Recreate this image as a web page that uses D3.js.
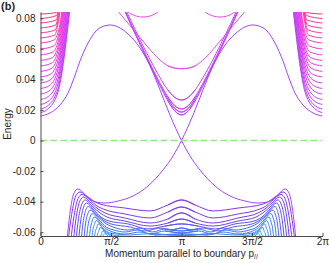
<!DOCTYPE html>
<html>
<head>
<meta charset="utf-8">
<script src="https://cdn.jsdelivr.net/npm/d3@7"></script>
<style>
  body { margin: 0; background: #fff; }
  svg { display: block; }
  text { font-family: "Liberation Sans", Arial, sans-serif; fill: #262626; }
</style>
</head>
<body>
<svg id="chart" width="329" height="263"></svg>
<script>
// momentum in units of pi, energy in units of the plot
var xTicks = [0, 0.5, 1, 1.5, 2];
var xTickLabels = ["0", "\u03c0/2", "\u03c0", "3\u03c0/2", "2\u03c0"];
var yTicks = [-0.06, -0.04, -0.02, 0, 0.02, 0.04, 0.06, 0.08];

// bulk bands near p = 0 (the ones near p = 2pi are their mirror image)
var upperBands = [
    [[0,.0828],[.09,.0834],[.117,.0842],[.13,.088]],
    [[0,.0798],[.114,.0818],[.127,.088]],
    [[0,.0769],[.111,.0789],[.132,.088]],
    [[0,.0736],[.107,.0756],[.136,.088]],
    [[0,.0704],[.104,.0724],[.140,.088]],
    [[0,.0671],[.100,.0690],[.144,.088]],
    [[0,.0638],[.096,.0658],[.139,.0769],[.156,.088]],
    [[0,.0599],[.092,.0618],[.137,.0730],[.160,.088]],
    [[0,.0560],[.088,.0579],[.135,.0690],[.164,.088]],
    [[0,.0524],[.084,.0543],[.134,.0654],[.169,.088]],
    [[0,.0488],[.080,.0507],[.132,.0618],[.173,.088]],
    [[0,.0452],[.076,.0471],[.131,.0582],[.177,.088]],
    [[0,.0416],[.072,.0435],[.130,.0546],[.181,.088]],
    [[0,.0376],[.068,.0396],[.128,.0507],[.186,.088]],
    [[0,.0340],[.064,.0360],[.126,.0471],[.190,.088]],
    [[0,.0304],[.060,.0324],[.125,.0435],[.194,.088]],
    [[0,.0268],[.056,.0288],[.124,.0399],[.198,.088]],
    [[0,.0236],[.053,.0255],[.123,.0366],[.203,.088]],
    [[0,.0206],[.050,.0226],[.123,.0337],[.207,.088]],
    [[0,.0183],[.048,.0203],[.123,.0314],[.211,.088]]
];

// bands with their minimum at p = pi (left half and a little past pi, mirrored)
var centerBands = [
    [[.55,.0943],[.6,.0841],[.65,.0739],[.7,.0640],[.75,.0541],[.8,.0445],[.85,.0352],[.9,.0265],[.95,.0196],[1,.0167],[1.05,.0196],[1.1,.0265]],
    [[.55,.0948],[.6,.0845],[.65,.0744],[.7,.0645],[.75,.0548],[.8,.0453],[.85,.0362],[.9,.0278],[.95,.0212],[1,.0186],[1.05,.0212],[1.1,.0278]],
    [[.55,.0950],[.6,.0850],[.65,.0749],[.7,.0651],[.75,.0555],[.8,.0461],[.85,.0372],[.9,.0291],[.95,.0230],[1,.0206],[1.05,.0230],[1.1,.0291]],
    [[.55,.0966],[.6,.0866],[.65,.0767],[.7,.0671],[.75,.0578],[.8,.0490],[.85,.0408],[.9,.0335],[.95,.0284],[1,.0265],[1.05,.0284],[1.1,.0335]],
    [[.5,.090],[.55,.0845],[.6,.079],[.65,.0735],[.7,.068],[.75,.0625],[.8,.057],[.85,.0525],[.9,.049],[.95,.0474],[1,.047],[1.05,.0474],[1.1,.049]]
];
var topArc = [[.58,.0870],[.6,.0855],[.64,.0830],[.68,.0814],[.727,.0808],[.77,.0813],[.81,.0828],[.85,.0852],[.87,.0868]];

// edge state (its partner is the mirror image)
var edgeState = [
    [0,.016],[.067,.018],[.138,.0232],[.195,.0311],[.238,.0409],[.280,.052],[.337,.0638],
    [.394,.0717],[.450,.0749],[.493,.0756],[.550,.0743],[.621,.0697],[.706,.0605],[.777,.0488],
    [.848,.033],[.918,.0167],[1,0],[1.060,-.0101],[1.131,-.0193],[1.238,-.0298],[1.344,-.0363],
    [1.450,-.0396],[1.543,-.0409],[1.613,-.0402],[1.670,-.0370],[1.734,-.0317],[1.762,-.0343],
    [1.784,-.0429],[1.801,-.0553],[1.812,-.0651]
];

// lower bulk bands (left half and a little past pi, mirrored)
var lowerBands = [
    [[.195,-.0664],[.221,-.0484],[.250,-.0363],[.280,-.0337],[.337,-.0370],[.387,-.0402],[.422,-.0416],[.599,-.0442],[.777,-.0461],[.904,-.0422],[1,-.0389],[1.096,-.0422]],
    [[.213,-.0664],[.238,-.0493],[.266,-.0380],[.294,-.0353],[.351,-.0389],[.401,-.0429],[.443,-.0448],[.599,-.0481],[.777,-.0507],[.904,-.0468],[1,-.0435],[1.096,-.0468]],
    [[.232,-.0664],[.254,-.0498],[.279,-.0396],[.305,-.0370],[.358,-.0409],[.408,-.0448],[.457,-.0474],[.599,-.0507],[.777,-.0540],[.904,-.0514],[1,-.0474],[1.096,-.0514]],
    [[.250,-.0664],[.270,-.0509],[.293,-.0416],[.316,-.0389],[.365,-.0429],[.422,-.0474],[.472,-.0501],[.599,-.0527],[.777,-.0560],[.904,-.0540],[1,-.0514],[1.096,-.0540]],
    [[.269,-.0664],[.286,-.0520],[.306,-.0435],[.326,-.0409],[.372,-.0448],[.429,-.0501],[.486,-.0527],[.621,-.0546],[.762,-.0579],[.883,-.0560],[1,-.0546],[1.117,-.0560]],
    [[.287,-.0664],[.302,-.0537],[.320,-.0458],[.337,-.0432],[.387,-.0474],[.443,-.0520],[.500,-.0546],[.635,-.0566],[.741,-.0592],[.848,-.0573],[.933,-.0586],[1,-.0573],[1.067,-.0586]],
    [[.306,-.0664],[.319,-.0546],[.335,-.0481],[.351,-.0455],[.401,-.0494],[.457,-.0540],[.514,-.0566],[.621,-.0586],[.706,-.0573],[.791,-.0599],[.883,-.0579],[1,-.0592],[1.117,-.0579]],
    [[.324,-.0664],[.336,-.0562],[.351,-.0504],[.365,-.0478],[.415,-.0520],[.465,-.0566],[.521,-.0586],[.599,-.0599],[.691,-.0586],[.777,-.0612],[.883,-.0592],[1,-.0605],[1.117,-.0592]],
    [[.343,-.0664],[.354,-.0575],[.367,-.0527],[.379,-.0501],[.429,-.0546],[.479,-.0586],[.599,-.0612],[.706,-.0599],[.812,-.0618],[1,-.0612],[1.188,-.0618]],
    [[.361,-.0664],[.371,-.0587],[.382,-.0550],[.394,-.0524],[.443,-.0573],[.493,-.0605],[.635,-.0618],[.777,-.0609],[1,-.0622],[1.223,-.0609]],
    [[.379,-.0664],[.388,-.0598],[.398,-.0573],[.408,-.0546],[.457,-.0592],[.507,-.0618],[.635,-.0628],[1,-.0632],[1.365,-.0628]],
    [[.398,-.0664],[.405,-.0612],[.413,-.0596],[.422,-.0569],[.465,-.0605],[.514,-.0632],[.599,-.0651]],
    [[.416,-.0664],[.423,-.0622],[.431,-.0618],[.440,-.0592],[.479,-.0625],[.528,-.0658]],
    [[.435,-.0664],[.443,-.0625],[.457,-.0609],[.479,-.0625],[.514,-.0664]]
];

var svg = d3.select('#chart');
var plotLeft = 40.5, plotRight = 322.5, plotTop = 12, plotBottom = 236;

var x = d3.scaleLinear().domain([0, 2]).range([plotLeft, plotRight]);
var xMirror = d3.scaleLinear().domain([0, 2]).range([plotRight, plotLeft]);
var y = d3.scaleLinear().domain([-0.0625, 0.0841]).range([plotBottom, plotTop]);

var upperColor = d3.scaleLinear()
    .domain([.018, .03, .05, .066, .083])
    .range(['#b83cf4', '#d03cf0', '#ec3ce8', '#ff3cb6', '#ff2f6c']);
var lowerColor = d3.scaleLinear()
    .domain([0, 3, 7, 13])
    .range(['#8a33f0', '#6a46f0', '#3f72f4', '#38aeff']);

svg.append('defs').append('clipPath').attr('id', 'plot')
    .append('rect')
    .attr('x', plotLeft).attr('y', plotTop)
    .attr('width', plotRight - plotLeft).attr('height', plotBottom - plotTop);

var plot = svg.append('g').attr('clip-path', 'url(#plot)');

function lineFor(sx) {
    return d3.line()
        .x(function(d) { return sx(d[0]); })
        .y(function(d) { return y(d[1]); })
        .curve(d3.curveMonotoneX);
}
var line = lineFor(x);
var lineMirror = lineFor(xMirror);

function drawBoth(data, color) {
    [line, lineMirror].forEach(function(l) {
        plot.append('path')
            .attr('d', l(data))
            .attr('fill', 'none')
            .attr('stroke', color)
            .attr('stroke-width', 1);
    });
}

lowerBands.forEach(function(d, i) { drawBoth(d, lowerColor(i)); });
upperBands.forEach(function(d) { drawBoth(d, upperColor(d[0][1])); });
centerBands.forEach(function(d, i) { drawBoth(d, i < 4 ? '#c344f2' : '#e24cee'); });
drawBoth(topArc, '#e84ce8');
drawBoth(edgeState, '#a345fb');

// zero energy line
svg.append('line')
    .attr('x1', x(0)).attr('x2', x(2))
    .attr('y1', y(0)).attr('y2', y(0))
    .attr('stroke', '#8fea80')
    .attr('stroke-width', 1.6)
    .attr('stroke-dasharray', '6.5,3.5');

// axes
var yAxis = d3.axisLeft(y)
    .tickValues(yTicks)
    .tickSize(-3)
    .tickSizeOuter(0)
    .tickPadding(5)
    .tickFormat(function(d) { return d === 0 ? '0' : d.toFixed(2); });
var xAxis = d3.axisBottom(x)
    .tickValues(xTicks)
    .tickSize(-3)
    .tickSizeOuter(0)
    .tickPadding(2)
    .tickFormat(function(d, i) { return xTickLabels[i]; });

var gy = svg.append('g').attr('transform', 'translate(' + plotLeft + ',0)').call(yAxis);
var gx = svg.append('g').attr('transform', 'translate(0,' + plotBottom + ')').call(xAxis);
[gx, gy].forEach(function(g) {
    g.selectAll('path, line').attr('stroke', '#4a4a4a');
    g.selectAll('text').attr('font-size', 10).attr('fill', '#262626')
        .style('font-family', '"Liberation Sans", Arial, sans-serif');
});

// labels
svg.append('text')
    .attr('x', 1).attr('y', 10)
    .attr('font-size', 11).attr('font-weight', 'bold')
    .text('(b)');

svg.append('text')
    .attr('transform', 'translate(11,124) rotate(-90)')
    .attr('text-anchor', 'middle')
    .attr('font-size', 10)
    .text('Energy');

var xl = svg.append('text')
    .attr('x', (plotLeft + plotRight) / 2).attr('y', 257)
    .attr('text-anchor', 'middle')
    .attr('font-size', 10)
    .text('Momentum parallel to boundary p');
xl.append('tspan')
    .attr('font-size', 7)
    .attr('dy', 2)
    .text('//');
</script>
</body>
</html>
